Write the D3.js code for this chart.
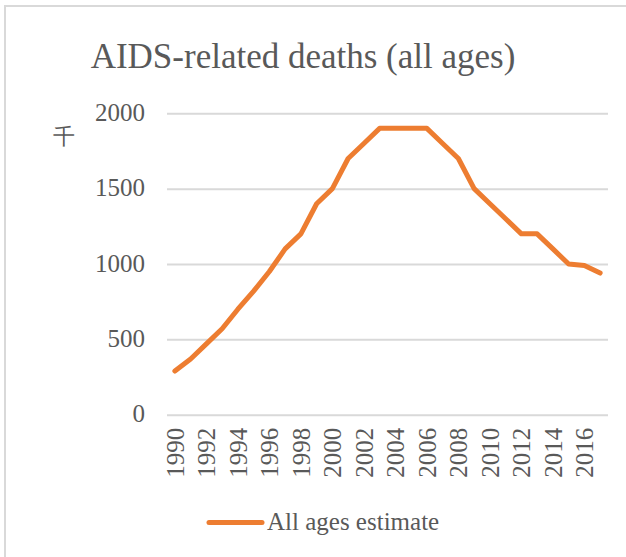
<!DOCTYPE html>
<html>
<head>
<meta charset="utf-8">
<script src="https://cdn.jsdelivr.net/npm/d3@7"></script>
<style>
  html, body { margin: 0; padding: 0; background: #fff; }
  svg { display: block; }
  text { font-family: "Liberation Serif", "DejaVu Serif", serif; fill: #595959; }
</style>
</head>
<body>
<div id="chart"></div>
<script>
// AIDS-related deaths, all ages (thousands)
const years = d3.range(1990, 2018);
const deaths = [290, 370, 470, 570, 700, 820, 950, 1100, 1200, 1400,
                1500, 1700, 1800, 1900, 1900, 1900, 1900, 1800, 1700, 1500,
                1400, 1300, 1200, 1200, 1100, 1000, 990, 940];
const yTicks = [0, 500, 1000, 1500, 2000];
const xTickYears = d3.range(1990, 2018, 2);
const titleText = "AIDS-related deaths (all ages)";
const unitText = "千";
const seriesName = "All ages estimate";

const W = 626, H = 557;
const plot = { left: 167, right: 608, top: 113.3, bottom: 414.7 };
const lineColor = "#ED7D31";
const gridColor = "#d9d9d9";
const textColor = "#595959";
const serif = "'Liberation Serif', 'DejaVu Serif', serif";

const svg = d3.select("#chart").append("svg")
  .attr("width", W).attr("height", H);

// chart frame
svg.append("rect")
  .attr("x", 5).attr("y", 6)
  .attr("width", W + 20).attr("height", H + 20)
  .attr("fill", "#fff")
  .attr("stroke", gridColor).attr("stroke-width", 2);

const x = d3.scalePoint().domain(years).range([plot.left, plot.right]).padding(0.5);
const y = d3.scaleLinear().domain([0, 2000]).range([plot.bottom, plot.top]);

// title
svg.append("text")
  .attr("x", 303).attr("y", 68)
  .attr("text-anchor", "middle")
  .attr("font-family", serif)
  .attr("font-size", 35)
  .attr("fill", "#606060")
  .text(titleText);

// unit label
svg.append("text")
  .attr("x", 64).attr("y", 144)
  .attr("text-anchor", "middle")
  .attr("font-family", "'Noto Sans CJK JP', sans-serif")
  .attr("font-size", 22)
  .attr("font-weight", 300)
  .attr("fill", textColor)
  .text(unitText);

// y axis with gridlines
const yAxis = svg.append("g")
  .attr("transform", `translate(${plot.left},0)`)
  .call(d3.axisLeft(y).tickValues(yTicks).tickSize(-(plot.right - plot.left)).tickPadding(22).tickFormat(d3.format("d")))
  .attr("font-family", serif)
  .attr("font-size", 25);
yAxis.select(".domain").remove();
yAxis.selectAll(".tick line").attr("stroke", gridColor).attr("stroke-width", 2);
yAxis.selectAll(".tick text")
  .attr("dy", "0.28em")
  .attr("fill", textColor);

// x axis labels
const xAxis = svg.append("g")
  .attr("transform", `translate(0,${plot.bottom})`)
  .call(d3.axisBottom(x).tickValues(xTickYears).tickSize(0).tickFormat(d3.format("d")))
  .attr("font-family", serif)
  .attr("font-size", 25);
xAxis.select(".domain").remove();
xAxis.selectAll(".tick text")
  .attr("transform", "rotate(-90)")
  .attr("text-anchor", "end")
  .attr("x", -13)
  .attr("y", 0)
  .attr("dy", "0.33em")
  .attr("fill", textColor);

// series line
const line = d3.line().x((d, i) => x(years[i])).y(d => y(d));
svg.append("path")
  .datum(deaths)
  .attr("d", line)
  .attr("fill", "none")
  .attr("stroke", lineColor)
  .attr("stroke-width", 5)
  .attr("stroke-linejoin", "round")
  .attr("stroke-linecap", "round");

// legend
const legend = svg.append("g");
legend.append("line")
  .attr("x1", 209).attr("x2", 262)
  .attr("y1", 522.5).attr("y2", 522.5)
  .attr("stroke", lineColor).attr("stroke-width", 5)
  .attr("stroke-linecap", "round");
legend.append("text")
  .attr("x", 267).attr("y", 529.5)
  .attr("font-family", serif)
  .attr("font-size", 25)
  .attr("fill", textColor)
  .text(seriesName);
</script>
</body>
</html>
